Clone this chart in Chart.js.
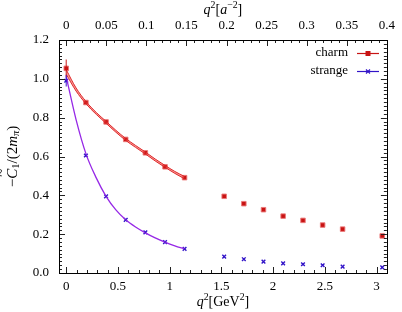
<!DOCTYPE html>
<html lang="en">
<head>
  <meta charset="utf-8">
  <title>C1 form factor</title>
  <script src="https://cdn.jsdelivr.net/npm/chart.js@4.4.1/dist/chart.umd.min.js"></script>
  <style>
    body { margin: 0; background: #fff; }
    #wrap { width: 402px; height: 312px; }
  </style>
</head>
<body>
<div id="wrap"><canvas id="canvas" width="402" height="312"></canvas></div>
<script>
  // lattice points, q^2 in GeV^2
  var q2 = [0, 0.19, 0.385, 0.575, 0.765, 0.955, 1.144, 1.527, 1.717, 1.907, 2.097, 2.289, 2.479, 2.672, 3.055];
  var charm = [1.054, 0.878, 0.778, 0.688, 0.619, 0.547, 0.491, 0.395, 0.357, 0.326, 0.293, 0.271, 0.247, 0.226, 0.191];
  var charmErr = [0.045, 0.008, 0.006, 0.006, 0.006, 0.006, 0.006, 0.006, 0.006, 0.006, 0.006, 0.006, 0.006, 0.006, 0.006];
  var strange = [0.99, 0.605, 0.395, 0.274, 0.209, 0.159, 0.124, 0.084, 0.071, 0.059, 0.050, 0.045, 0.040, 0.033, 0.029];
  var strangeErr = [0.03, 0.006, 0.004, 0.003, 0.003, 0.003, 0.003, 0.003, 0.002, 0.002, 0.002, 0.002, 0.002, 0.002, 0.002];

  // fit curves
  var fitQ2 = [0, 0.095, 0.19, 0.29, 0.385, 0.48, 0.575, 0.67, 0.765, 0.86, 0.955, 1.05, 1.144];
  var charmFit = [1.035, 0.945, 0.878, 0.822, 0.776, 0.730, 0.688, 0.652, 0.618, 0.582, 0.549, 0.518, 0.491];
  var charmFitErr = [0.012, 0.008, 0.006, 0.005, 0.005, 0.005, 0.005, 0.005, 0.005, 0.005, 0.005, 0.005, 0.006];
  var strangeFit = [1.01, 0.79, 0.615, 0.49, 0.395, 0.325, 0.274, 0.237, 0.207, 0.181, 0.159, 0.140, 0.124];

  var xTicks = [0, 0.5, 1, 1.5, 2, 2.5, 3];
  var topTicks = [0, 0.05, 0.1, 0.15, 0.2, 0.25, 0.3, 0.35, 0.4];
  var yTicks = [0, 0.2, 0.4, 0.6, 0.8, 1.0, 1.2];
  var aConv = 7.75; // GeV^2 per a^-2

  var FONT = "'Liberation Serif', 'DejaVu Serif', serif";
  var RED = 'rgb(200,20,20)';
  var BLUE = 'rgb(50,20,200)';

  function pts(xs, ys) {
    return xs.map(function(x, i) { return {x: x, y: ys[i]}; });
  }

  function drawRich(ctx, segs, cx, cy, rot, size) {
    ctx.save();
    ctx.translate(cx, cy);
    ctx.rotate(rot);
    var total = 0;
    segs.forEach(function(s) {
      var fs = s.small ? size * 0.7 : size;
      ctx.font = (s.it ? 'italic ' : '') + fs + 'px ' + FONT;
      s.w = ctx.measureText(s.t).width;
      total += s.w;
    });
    var x = -total / 2;
    ctx.fillStyle = '#000';
    ctx.textBaseline = 'middle';
    ctx.textAlign = 'left';
    segs.forEach(function(s) {
      var fs = s.small ? size * 0.7 : size;
      ctx.font = (s.it ? 'italic ' : '') + fs + 'px ' + FONT;
      ctx.fillText(s.t, x, s.dy || 0);
      if (s.tilde) {
        ctx.font = size + 'px ' + FONT;
        ctx.textAlign = 'center';
        ctx.fillText('~', x + s.w / 2 + 1, -size * 0.72);
        ctx.textAlign = 'left';
      }
      x += s.w;
    });
    ctx.restore();
  }

  var frame = {
    id: 'frame',
    afterDatasetsDraw: function(chart) {
      var ctx = chart.ctx, a = chart.chartArea;
      var sx = chart.scales.x, sy = chart.scales.y, st = chart.scales.x2;
      ctx.save();
      ctx.strokeStyle = '#222';
      ctx.lineWidth = 1;
      ctx.beginPath();
      var i, p, len;
      // bottom axis
      for (i = 0; i <= 31; i++) {
        p = Math.round(sx.getPixelForValue(i / 10)) + 0.5;
        len = (i % 5 === 0) ? 6 : 3;
        ctx.moveTo(p, a.bottom); ctx.lineTo(p, a.bottom - len);
      }
      // top axis
      for (i = 0; i <= 40; i++) {
        p = Math.round(st.getPixelForValue(i / 100)) + 0.5;
        len = (i % 5 === 0) ? 6 : 3;
        ctx.moveTo(p, a.top); ctx.lineTo(p, a.top + len);
      }
      // left + right
      for (i = 0; i <= 60; i++) {
        p = Math.round(sy.getPixelForValue(i / 50)) + 0.5;
        len = (i % 10 === 0) ? 6 : 3;
        ctx.moveTo(a.left, p); ctx.lineTo(a.left + len, p);
        ctx.moveTo(a.right, p); ctx.lineTo(a.right - len, p);
      }
      ctx.stroke();
      ctx.strokeStyle = '#000';
      ctx.strokeRect(Math.round(a.left) + 0.5, Math.round(a.top) + 0.5,
        Math.round(a.right - a.left), Math.round(a.bottom - a.top));

      // error bars
      ctx.lineWidth = 1.2;
      function bars(vals, errs, col) {
        ctx.strokeStyle = col;
        ctx.beginPath();
        vals.forEach(function(v, k) {
          var px = sx.getPixelForValue(q2[k]);
          ctx.moveTo(px, sy.getPixelForValue(v - errs[k]));
          ctx.lineTo(px, sy.getPixelForValue(v + errs[k]));
        });
        ctx.stroke();
      }
      bars(charm, charmErr, 'rgba(200,20,20,0.8)');
      bars(strange, strangeErr, 'rgba(50,20,200,0.8)');

      // key
      ctx.font = '13px ' + FONT;
      ctx.fillStyle = '#000';
      ctx.textAlign = 'right';
      ctx.textBaseline = 'middle';
      ctx.fillText('charm', 348, 53);
      ctx.fillText('strange', 348, 71);
      ctx.lineWidth = 1.2;
      ctx.strokeStyle = RED;
      ctx.beginPath(); ctx.moveTo(357, 53.5); ctx.lineTo(379, 53.5); ctx.stroke();
      ctx.fillStyle = RED;
      ctx.fillRect(365.5, 51, 5, 5);
      ctx.strokeStyle = BLUE;
      ctx.beginPath(); ctx.moveTo(357, 71.5); ctx.lineTo(379, 71.5); ctx.stroke();
      ctx.beginPath();
      ctx.moveTo(366, 69.5); ctx.lineTo(370, 73.5);
      ctx.moveTo(370, 69.5); ctx.lineTo(366, 73.5);
      ctx.stroke();

      // axis titles
      drawRich(ctx, [{t: 'q', it: true}, {t: '2', small: true, dy: -5}, {t: '[GeV'}, {t: '2', small: true, dy: -5}, {t: ']'}],
        (a.left + a.right) / 2, 302, 0, 14);
      drawRich(ctx, [{t: 'q', it: true}, {t: '2', small: true, dy: -5}, {t: '['}, {t: 'a', it: true}, {t: '\u22122', small: true, dy: -5}, {t: ']'}],
        (a.left + a.right) / 2, 10, 0, 14);
      drawRich(ctx, [{t: '\u2212'}, {t: 'C', it: true, tilde: true}, {t: '1', small: true, dy: 3}, {t: '/(2'}, {t: 'm', it: true}, {t: '\u03c0', it: true, small: true, dy: 3}, {t: ')'}],
        13, (a.top + a.bottom) / 2, -Math.PI / 2, 15);
      ctx.restore();
    }
  };

  function fixTicks(list) {
    return function(scale) { scale.ticks = list.map(function(v) { return {value: v}; }); };
  }

  Chart.defaults.font.family = FONT;
  Chart.defaults.font.size = 13;
  Chart.defaults.color = '#000';

  new Chart(document.getElementById('canvas'), {
    type: 'scatter',
    data: {
      datasets: [
        {
          data: pts(fitQ2, charmFit.map(function(v, i) { return v - charmFitErr[i]; })),
          showLine: true, pointRadius: 0, borderColor: 'rgb(225,40,40)', borderWidth: 1,
          cubicInterpolationMode: 'monotone', fill: false
        },
        {
          data: pts(fitQ2, charmFit.map(function(v, i) { return v + charmFitErr[i]; })),
          showLine: true, pointRadius: 0, borderColor: 'rgb(225,40,40)', borderWidth: 1,
          cubicInterpolationMode: 'monotone', fill: '-1', backgroundColor: 'rgba(235,90,90,0.6)'
        },
        {
          data: pts(fitQ2, strangeFit),
          showLine: true, pointRadius: 0, borderColor: 'rgb(150,40,230)', borderWidth: 1.3,
          cubicInterpolationMode: 'monotone'
        },
        {
          data: pts(q2, charm), pointStyle: 'rect', pointRadius: 3.2,
          backgroundColor: RED, borderColor: 'rgba(235,120,120,0.9)', borderWidth: 1
        },
        {
          data: pts(q2, strange), pointStyle: 'crossRot', pointRadius: 2.6,
          borderColor: BLUE, borderWidth: 1.4
        }
      ]
    },
    options: {
      responsive: false,
      animation: false,
      events: [],
      layout: { padding: { left: 0, right: 9, top: 0, bottom: 0 } },
      plugins: { legend: { display: false }, tooltip: { enabled: false } },
      scales: {
        x: {
          type: 'linear', position: 'bottom', min: -0.07, max: 3.10,
          grid: { display: false, drawTicks: false }, border: { display: false },
          afterBuildTicks: fixTicks(xTicks),
          afterFit: function(s) { s.height = 39; },
          ticks: { padding: 6, maxRotation: 0, callback: function(v) { return String(v); } }
        },
        x2: {
          type: 'linear', position: 'top', min: -0.07 / aConv, max: 3.10 / aConv,
          grid: { display: false, drawTicks: false }, border: { display: false },
          afterBuildTicks: fixTicks(topTicks),
          afterFit: function(s) { s.height = 40; },
          ticks: { padding: 7, maxRotation: 0, callback: function(v) { return String(+v.toFixed(2)); } }
        },
        y: {
          min: 0, max: 1.2,
          grid: { display: false, drawTicks: false }, border: { display: false },
          afterBuildTicks: fixTicks(yTicks),
          afterFit: function(s) { s.width = 59; },
          ticks: { padding: 10, callback: function(v) { return v.toFixed(1); } }
        }
      }
    },
    plugins: [frame]
  });
</script>
</body>
</html>
